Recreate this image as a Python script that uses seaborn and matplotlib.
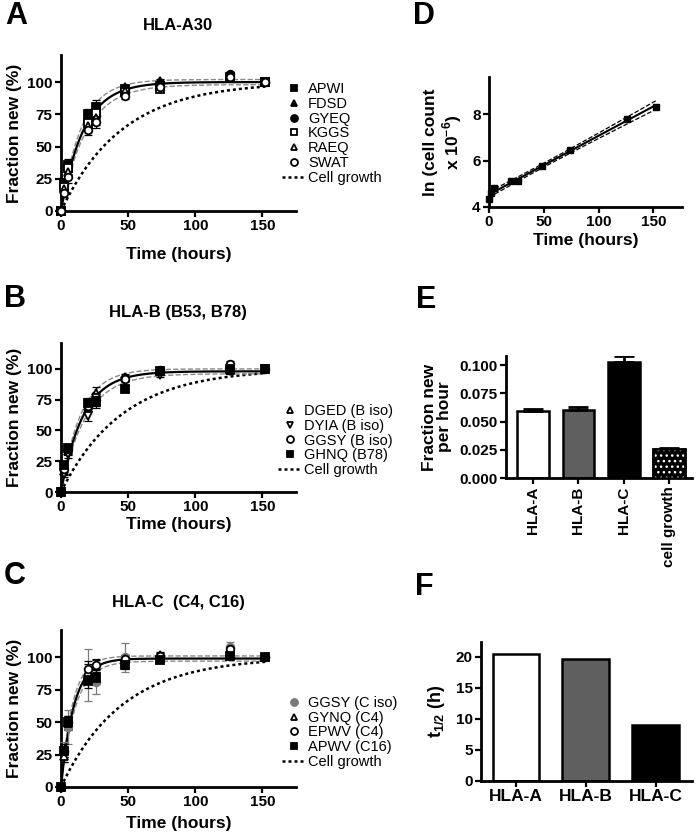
import numpy as np
import pandas as pd
import seaborn as sns
import matplotlib
matplotlib.use('Agg')
import matplotlib.pyplot as plt
from matplotlib.lines import Line2D

# sampling times (hours)
hours = [0, 2, 5, 20, 26, 48, 74, 126, 152]

# A: HLA-A30 peptides (fraction new, %)
a_apwi = [0, 22, 36, 75, 81, 95, 97, 104, 100]
a_fdsd = [0, 20, 34, 73, 78, 96, 101, 103, 100]
a_gyeq = [0, 21, 35, 70, 74, 94, 99, 106, 100]
a_kggs = [0, 19, 33, 68, 76, 92, 95, 103, 100]
a_raeq = [0, 17, 30, 66, 72, 93, 98, 104, 100]
a_swat = [0, 14, 26, 63, 69, 89, 96, 104, 100]
a_err = [0, 3, 4, 4, 5, 2, 1, 2, 0]

# B: HLA-B peptides
b_dged = [0, 17, 33, 70, 80, 93, 98, 99, 100]
b_dyia = [0, 15, 31, 62, 76, 90, 95, 98, 100]
b_ggsy = [0, 19, 35, 70, 75, 92, 99, 104, 100]
b_ghnq = [0, 22, 36, 72, 73, 84, 98, 100, 100]
b_err = [0, 3, 3, 4, 5, 3, 2, 2, 0]

# C: HLA-C peptides
c_ggsy = [0, 27, 46, 86, 81, 100, 100, 108, 100]
c_gynq = [0, 24, 49, 89, 93, 99, 102, 104, 100]
c_epwv = [0, 28, 50, 91, 94, 99, 101, 106, 100]
c_apwv = [0, 28, 50, 82, 84, 94, 98, 101, 100]
c_err = [0, 5, 5, 6, 5, 3, 2, 2, 0]
c_ggsy_err = [0, 8, 13, 20, 9, 11, 3, 4, 0]

# one-phase fits: (plateau %, rate per hour)
a_fit = (100, 0.059)
b_fit = (98, 0.0605)
c_fit = (99, 0.104)
growth_curve_k = 0.022

# D: ln(cell count x 10^-6)
d_ln_count = [4.35, 4.6, 4.8, 5.12, 5.12, 5.75, 6.47, 7.8, 8.3]

# E: fraction new per hour
e_groups = ['HLA-A', 'HLA-B', 'HLA-C', 'cell growth']
e_rate = [0.059, 0.0605, 0.1025, 0.026]
e_err = [0.0022, 0.0027, 0.0053, 0.0003]

# F: half-lives (h)
f_groups = ['HLA-A', 'HLA-B', 'HLA-C']
f_half = [20.5, 19.7, 9.0]

bar_colors = ['white', '#5f5f5f', 'black', 'black']

sns.set_style('ticks')
plt.rcParams['font.family'] = ['Liberation Sans', 'DejaVu Sans']
plt.rcParams['mathtext.fontset'] = 'custom'
plt.rcParams['mathtext.rm'] = 'Liberation Sans'
plt.rcParams['mathtext.bf'] = 'Liberation Sans:bold'
plt.rcParams['axes.linewidth'] = 2
plt.rcParams['hatch.linewidth'] = 1.0
for key in ['text.color', 'axes.labelcolor', 'xtick.color', 'ytick.color',
            'axes.edgecolor']:
    plt.rcParams[key] = 'black'

W, H = 696, 840
fig = plt.figure(figsize=(W / 100, H / 100), dpi=100)


def px_axes(l, t, r, b):
    return fig.add_axes([l / W, 1 - b / H, (r - l) / W, (b - t) / H])


def prism(ax, xticks, yticks, xfmt='{:g}', yfmt='{:g}', xrot=0):
    sns.despine(ax=ax)
    ax.spines['left'].set_linewidth(2)
    ax.spines['bottom'].set_linewidth(2)
    ax.tick_params(width=1.6, length=4, pad=2, colors='black')
    ax.set_xticks(xticks)
    ax.set_yticks(yticks)
    if xfmt is not None:
        ax.set_xticklabels([xfmt.format(v) for v in xticks], fontsize=11,
                           fontweight='bold', rotation=xrot)
    ax.set_yticklabels([yfmt.format(v) for v in yticks], fontsize=11,
                       fontweight='bold')


def letter(x, y, s):
    fig.text(x / W, 1 - y / H, s, fontsize=22, fontweight='bold',
             ha='center', va='center')


t_fine = np.linspace(0, 152, 300)


def kinetics(ax, series, fit, legend_xy, xpad):
    plateau, k = fit
    growth = 100 * (1 - np.exp(-growth_curve_k * t_fine))
    sns.lineplot(x=t_fine, y=growth, ax=ax, color='black', linestyle=(0, (1.2, 1.2)),
                 linewidth=1.8)
    for dp, fk in [(2, 1.12), (-2, 0.9)]:
        band = (plateau + dp) * (1 - np.exp(-k * fk * t_fine))
        sns.lineplot(x=t_fine, y=band, ax=ax, color='#8a8a8a', linestyle='--',
                     linewidth=1)
    sns.lineplot(x=t_fine, y=plateau * (1 - np.exp(-k * t_fine)), ax=ax,
                 color='black', linewidth=1.6)
    handles = []
    for name, vals, err, marker, filled, col in series:
        ax.errorbar(hours, vals, yerr=err, fmt='none', ecolor=col, elinewidth=0.9,
                    capsize=3, capthick=0.9, clip_on=False, zorder=3)
        ax.plot(hours, vals, linestyle='none', marker=marker, markersize=5.5,
                markerfacecolor=col if filled else 'white', markeredgecolor=col,
                markeredgewidth=1.3, clip_on=False, zorder=4)
        handles.append(Line2D([], [], linestyle='none', marker=marker, markersize=5,
                              markerfacecolor=col if filled else 'white',
                              markeredgecolor=col, markeredgewidth=1.3, label=name))
    handles.append(Line2D([], [], color='black', linestyle=(0, (1.2, 1.2)),
                          linewidth=1.8, label='Cell growth'))
    ax.set_xlim(0, 175)
    ax.set_ylim(0, 121)
    prism(ax, [0, 50, 100, 150], [0, 25, 50, 75, 100])
    ax.set_xlabel('Time (hours)', fontsize=12.5, fontweight='bold', labelpad=xpad)
    ax.set_ylabel('Fraction new (%)', fontsize=12.5, fontweight='bold', labelpad=4)
    ax.legend(handles=handles, loc='upper left', bbox_to_anchor=legend_xy,
              frameon=False, borderaxespad=0, borderpad=0, handlelength=1.6,
              handletextpad=0.2, labelspacing=0.05, fontsize=10.5)


# A
axA = px_axes(61, 55, 296, 211)
kinetics(axA, [
    ('APWI', a_apwi, a_err, 's', True, 'black'),
    ('FDSD', a_fdsd, a_err, '^', True, 'black'),
    ('GYEQ', a_gyeq, a_err, 'o', True, 'black'),
    ('KGGS', a_kggs, a_err, 's', False, 'black'),
    ('RAEQ', a_raeq, a_err, '^', False, 'black'),
    ('SWAT', a_swat, a_err, 'o', False, 'black'),
], a_fit, (0.94, 0.825), 10)
fig.text(178 / W, 1 - 25 / H, 'HLA-A30', fontsize=12, fontweight='bold',
         ha='center', va='center')
letter(16, 16, 'A')

# B
axB = px_axes(61, 343, 296, 492)
kinetics(axB, [
    ('DGED (B iso)', b_dged, b_err, '^', False, 'black'),
    ('DYIA (B iso)', b_dyia, b_err, 'v', False, 'black'),
    ('GGSY (B iso)', b_ggsy, b_err, 'o', False, 'black'),
    ('GHNQ (B78)', b_ghnq, b_err, 's', True, 'black'),
], b_fit, (0.923, 0.59), 2)
fig.text(178 / W, 1 - 312 / H, 'HLA-B (B53, B78)', fontsize=12, fontweight='bold',
         ha='center', va='center')
letter(15, 299, 'B')

# C
axC = px_axes(61, 630, 296, 787)
kinetics(axC, [
    ('GGSY (C iso)', c_ggsy, c_ggsy_err, 'o', True, '#7a7a7a'),
    ('GYNQ (C4)', c_gynq, c_err, '^', False, 'black'),
    ('EPWV (C4)', c_epwv, c_err, 'o', False, 'black'),
    ('APWV (C16)', c_apwv, c_err, 's', True, 'black'),
], c_fit, (0.94, 0.58), 5)
fig.text(178 / W, 1 - 602 / H, 'HLA-C  (C4, C16)', fontsize=12, fontweight='bold',
         ha='center', va='center')
letter(15, 576, 'C')

# D: cell growth, linear fit with 95% confidence band
axD = px_axes(489, 77, 682, 207)
x = np.array(hours, dtype=float)
y = np.array(d_ln_count)
slope, icpt = np.polyfit(x, y, 1)
resid = y - (slope * x + icpt)
s = np.sqrt(np.sum(resid ** 2) / (len(x) - 2))
t_line = np.linspace(0, 152, 200)
se = s * np.sqrt(1 / len(x) + (t_line - x.mean()) ** 2 / np.sum((x - x.mean()) ** 2))
y_line = slope * t_line + icpt
for sign in (1, -1):
    sns.lineplot(x=t_line, y=y_line + sign * 2.365 * se, ax=axD, color='black',
                 linestyle='--', linewidth=0.9)
sns.lineplot(x=t_line, y=y_line, ax=axD, color='black', linewidth=1.5)
axD.plot(hours, d_ln_count, linestyle='none', marker='s', markersize=5,
         color='black', clip_on=False, zorder=4)
axD.set_xlim(0, 176)
axD.set_ylim(4, 9.6)
prism(axD, [0, 50, 100, 150], [4, 6, 8])
axD.set_xlabel('Time (hours)', fontsize=12.5, fontweight='bold', labelpad=3)
axD.set_ylabel('ln (cell count\nx 10$^{\\mathbf{-6}}$)', fontsize=12.5,
               fontweight='bold', labelpad=6, linespacing=1.1)
letter(424, 16, 'D')

# E: rates
axE = px_axes(506, 356, 692, 478)
dfE = pd.DataFrame({'group': e_groups, 'rate': e_rate})
sns.barplot(data=dfE, x='group', y='rate', hue='group', palette=bar_colors,
            legend=False, ax=axE, width=0.7, edgecolor='black', linewidth=1.8,
            saturation=1)
for p in axE.patches[3:4]:
    ov = plt.Rectangle(p.get_xy(), p.get_width(), p.get_height(), facecolor='none',
                       edgecolor='white', hatch='...', linewidth=0, zorder=3)
    axE.add_patch(ov)
    edge = plt.Rectangle(p.get_xy(), p.get_width(), p.get_height(), facecolor='none',
                         edgecolor='black', linewidth=1.8, zorder=3.5)
    axE.add_patch(edge)
axE.errorbar(range(len(e_groups)), e_rate, yerr=[np.zeros(len(e_err)), e_err],
             fmt='none', ecolor='black', elinewidth=2, capsize=7, capthick=2,
             zorder=1)
axE.set_xlim(-0.6, 3.51)
axE.set_ylim(0, 0.108)
prism(axE, range(4), [0, 0.025, 0.05, 0.075, 0.1], xfmt=None, yfmt='{:.3f}')
axE.set_xticklabels(e_groups, rotation=90, fontsize=11, fontweight='bold')
axE.set_xlabel('')
axE.set_ylabel('Fraction new\nper hour', fontsize=12.5, fontweight='bold',
               labelpad=5, linespacing=1.0)
letter(426, 300, 'E')

# F: half-lives
axF = px_axes(481, 642, 692, 781)
dfF = pd.DataFrame({'group': f_groups, 'half': f_half})
sns.barplot(data=dfF, x='group', y='half', hue='group', palette=bar_colors[:3],
            legend=False, ax=axF, width=0.67, edgecolor='black', linewidth=1.8,
            saturation=1)
axF.set_xlim(-0.5, 2.52)
axF.set_ylim(0, 22.4)
prism(axF, range(3), [0, 5, 10, 15, 20], xfmt=None)
axF.set_xticklabels(f_groups, fontsize=12.5, fontweight='bold')
axF.set_xlabel('')
axF.set_ylabel('$\\mathbf{t_{1/2}}$ (h)', fontsize=13, fontweight='bold', labelpad=6)
letter(424, 587, 'F')

fig.savefig('out.png', dpi=100)
